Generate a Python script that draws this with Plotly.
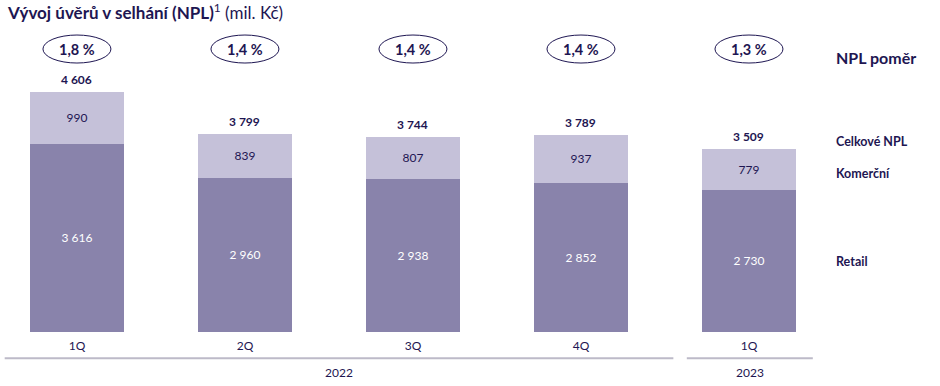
import plotly.graph_objects as go

quarters = ["1Q", "2Q", "3Q", "4Q", "1Q"]
years = ["2022", "2022", "2022", "2022", "2023"]
retail = [3616, 2960, 2938, 2852, 2730]
komercni = [990, 839, 807, 937, 779]
totals = [4606, 3799, 3744, 3789, 3509]
npl_ratio = ["1,8 %", "1,4 %", "1,4 %", "1,4 %", "1,3 %"]

NAVY = "#1E1652"
C_RETAIL = "#8983AB"
C_KOM = "#C5C1D9"
FONT = "Lato"

def fmt(v):
    return f"{v:,}".replace(",", " ")

xs = list(range(len(quarters)))

fig = go.Figure()
fig.add_trace(go.Bar(
    x=xs, y=retail, marker_color=C_RETAIL, width=0.555,
    text=[fmt(v) for v in retail], textposition="inside", insidetextanchor="middle",
    textfont=dict(color="white", size=12, family=FONT), name="Retail",
    marker_line_width=0,
))
fig.add_trace(go.Bar(
    x=xs, y=komercni, marker_color=C_KOM, width=0.555,
    text=[fmt(v) for v in komercni], textposition="inside", insidetextanchor="middle",
    textfont=dict(color=NAVY, size=12, family=FONT), name="Komerční",
    marker_line_width=0,
))

annotations = []
shapes = []
for i, (t, r) in enumerate(zip(totals, npl_ratio)):
    annotations.append(dict(x=i, y=t, xref="x", yref="y", text=f"<b>{fmt(t)}</b>",
                            showarrow=False, yanchor="bottom", yshift=3,
                            font=dict(size=12, color=NAVY, family=FONT)))
    annotations.append(dict(x=i, y=0.937, xref="x", yref="paper", text=f"<b>{r}</b>",
                            showarrow=False, yanchor="middle",
                            font=dict(size=14.5, color=NAVY, family=FONT)))
    shapes.append(dict(type="circle", xref="x", yref="paper", xsizemode="pixel", ysizemode="pixel",
                       xanchor=i, yanchor=0.937, x0=-34, x1=34, y0=-14, y1=14,
                       line=dict(color=NAVY, width=1)))

# year group lines and labels
groups = {}
for i, yv in enumerate(years):
    groups.setdefault(yv, []).append(i)
for yv, idx in groups.items():
    if yv == "2023":
        x0 = idx[0] - 0.37
        x1 = idx[-1] + 0.38
    else:
        x0 = idx[0] - 0.43
        x1 = idx[-1] + 0.55
    shapes.append(dict(type="line", xref="x", yref="paper", x0=x0, x1=x1, y0=-0.087, y1=-0.087,
                       line=dict(color="#BDBAC8", width=2)))
    annotations.append(dict(x=(x0 + x1) / 2, y=-0.133, xref="x", yref="paper", text=yv,
                            showarrow=False, yanchor="middle",
                            font=dict(size=12, color=NAVY, family=FONT)))

# right-side labels
right = [("NPL poměr", 0.91, 16), ("Celkové NPL", 0.632, 12.5), ("Komerční", 0.526, 12.5), ("Retail", 0.232, 12.5)]
for txt, yp, sz in right:
    annotations.append(dict(x=0.887, y=yp, xref="paper", yref="paper", text=f"<b>{txt}</b>",
                            showarrow=False, xanchor="left", yanchor="middle",
                            font=dict(size=sz, color=NAVY, family=FONT)))

annotations.append(dict(x=0.005, y=1.0, xref="paper", yref="paper", yanchor="bottom", yshift=5,
                        text="<b>Vývoj úvěrů v selhání (NPL)</b><sup>1</sup> (mil. Kč)",
                        showarrow=False, xanchor="left",
                        font=dict(size=17, color=NAVY, family=FONT)))

fig.update_layout(
    width=940, height=386,
    margin=dict(l=0, r=0, t=30, b=54),
    barmode="stack", showlegend=False,
    plot_bgcolor="white", paper_bgcolor="white",
    annotations=annotations, shapes=shapes,
    font=dict(family=FONT, color=NAVY),
    uniformtext=dict(mode="show", minsize=10),
)
fig.update_xaxes(range=[-0.458, 5.137], tickvals=xs, ticktext=quarters, showgrid=False,
                 zeroline=False, showline=False, ticks="", ticklabelstandoff=5,
                 tickfont=dict(size=12, color=NAVY, family=FONT))
fig.update_yaxes(range=[0, 5796], visible=False)

fig.write_html("out.html", config={"displayModeBar": False},
               post_script="document.body.style.margin='0';document.body.style.overflow='hidden';")
